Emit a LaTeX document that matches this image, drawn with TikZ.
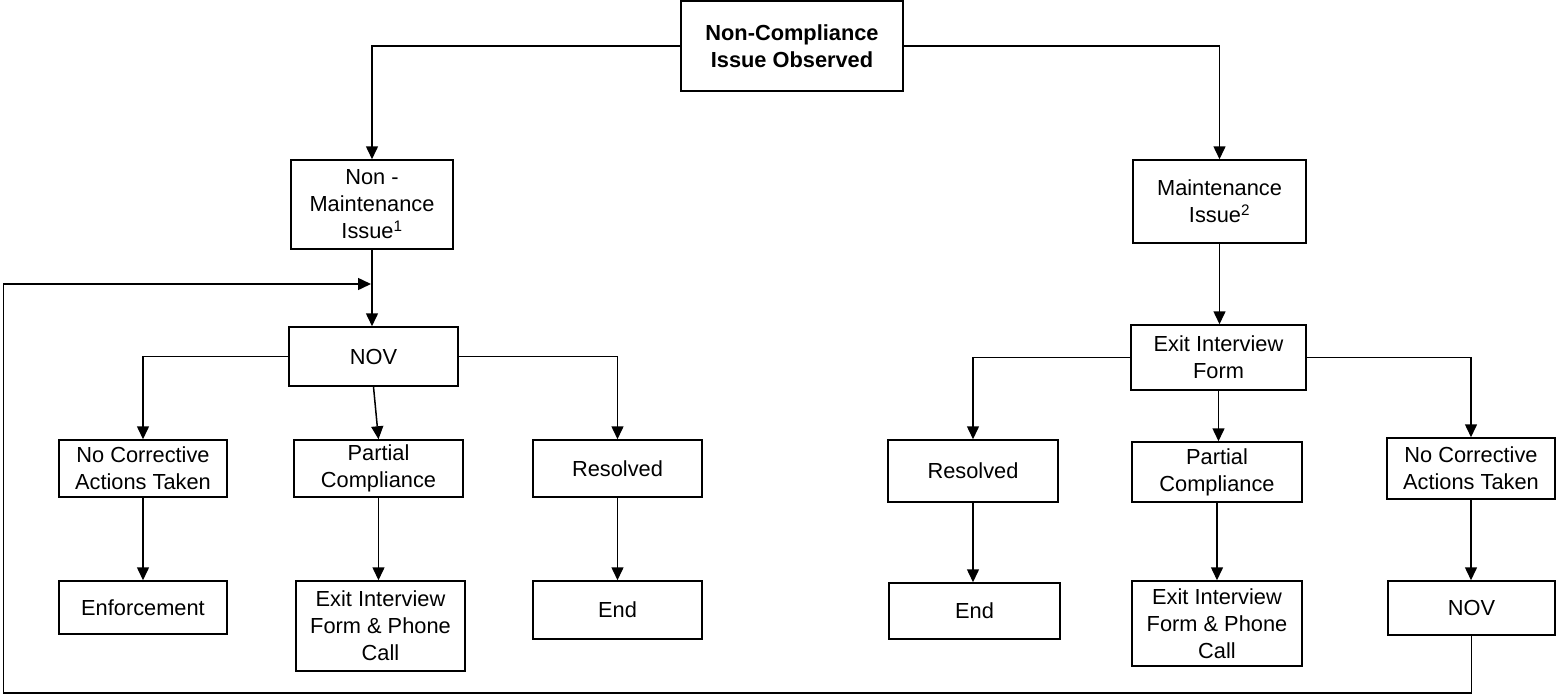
\documentclass[tikz,border=0pt]{standalone}
\usepackage{fontspec}
\setmainfont{Liberation Sans}
\usetikzlibrary{arrows.meta}
\begin{document}
\begin{tikzpicture}[x=1pt,y=-1pt,line width=1.5pt,
  box/.style={draw,align=center,inner sep=0pt,font=\fontsize{21.8}{27}\selectfont},
  topbox/.style={box,font=\fontsize{21.8}{27}\selectfont\bfseries},
  arr/.style={-{Triangle[length=13pt,width=12pt]}}]
  \useasboundingbox (0,0) rectangle (1556,694);
  \node[topbox,minimum width=222pt,minimum height=90pt] (top) at (792,46) {Non-Compliance\\Issue Observed};
  \node[box,minimum width=162pt,minimum height=89pt] (nonmaint) at (372,204.5) {Non -\\Maintenance\\Issue\textsuperscript{1}};
  \node[box,minimum width=173pt,minimum height=83pt] (maint) at (1219.5,201.5) {Maintenance\\Issue\textsuperscript{2}};
  \node[box,minimum width=169pt,minimum height=59pt] (nov) at (373.5,356.5) {NOV};
  \node[box,minimum width=175pt,minimum height=65pt] (exitform) at (1218.5,357.5) {Exit Interview\\Form};
  % left branch
  \node[box,minimum width=168pt,minimum height=57pt] (nocorrL) at (143,468.5) {No Corrective\\Actions Taken};
  \node[box,minimum width=169pt,minimum height=57pt] (partialL) at (378.5,468.5) {Partial\\Compliance};
  \node[box,minimum width=169pt,minimum height=57pt] (resolvedL) at (617.5,468.5) {Resolved};
  \node[box,minimum width=168pt,minimum height=53pt] (enforce) at (143,607.5) {Enforcement};
  \node[box,minimum width=169pt,minimum height=90pt] (phoneL) at (380.5,626) {Exit Interview\\Form \& Phone\\Call};
  \node[box,minimum width=169pt,minimum height=58pt] (endL) at (617.5,610) {End};
  % right branch
  \node[box,minimum width=170pt,minimum height=62pt] (resolvedR) at (973,471) {Resolved};
  \node[box,minimum width=170pt,minimum height=60pt] (partialR) at (1217,472) {Partial\\Compliance};
  \node[box,minimum width=168pt,minimum height=61pt] (nocorrR) at (1471,468.5) {No Corrective\\Actions Taken};
  \node[box,minimum width=171pt,minimum height=56pt] (endR) at (974.5,611) {End};
  \node[box,minimum width=170pt,minimum height=85pt] (phoneR) at (1217,623.5) {Exit Interview\\Form \& Phone\\Call};
  \node[box,minimum width=167pt,minimum height=54pt] (novR) at (1471.5,608) {NOV};
  \coordinate (loopL) at (3.5,693);
  \coordinate (back) at (371,284);
  \draw[arr] (top.west) -| (nonmaint.north);
  \draw[arr] (top.east) -| (maint.north);
  \draw[arr] (nonmaint.south) -- (nonmaint.south |- nov.north);
  \draw[arr] (maint.south) -- (maint.south |- exitform.north);
  \draw[arr] (nov.west) -| (nocorrL.north);
  \draw[arr] (nov.south) -- (partialL.north);
  \draw[arr] (nov.east) -| (resolvedL.north);
  \draw[arr] (nocorrL.south) -- (enforce.north);
  \draw[arr] (partialL.south) -- (partialL.south |- phoneL.north);
  \draw[arr] (resolvedL.south) -- (endL.north);
  \draw[arr] (exitform.west) -| (resolvedR.north);
  \draw[arr] (exitform.south) -- (exitform.south |- partialR.north);
  \draw[arr] (exitform.east) -| (nocorrR.north);
  \draw[arr] (resolvedR.south) -- (resolvedR.south |- endR.north);
  \draw[arr] (partialR.south) -- (phoneR.north);
  \draw[arr] (nocorrR.south) -- (nocorrR.south |- novR.north);
  \draw[arr] (novR.south) |- (loopL) |- (back);
\end{tikzpicture}
\end{document}
